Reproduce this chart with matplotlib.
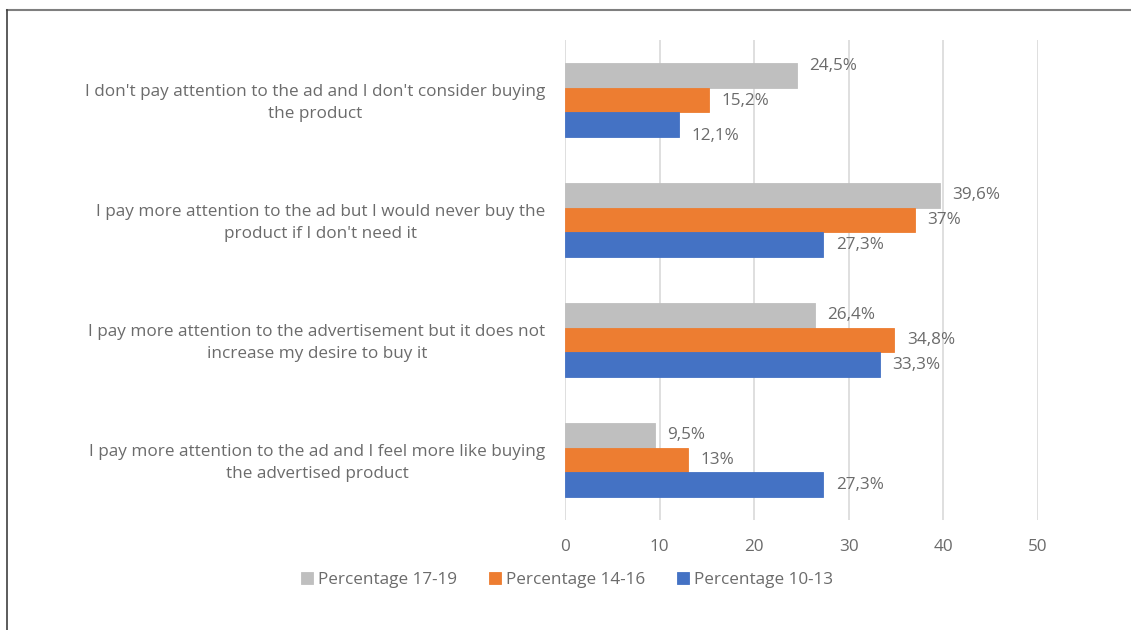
import matplotlib
matplotlib.use("Agg")
import matplotlib.pyplot as plt
from matplotlib.lines import Line2D
import numpy as np

plt.rcParams['font.family'] = ['Open Sans', 'DejaVu Sans']

categories = [
    "I don't pay attention to the ad and I don't consider buying\nthe product",
    "I pay more attention to the ad but I would never buy the\nproduct if I don't need it",
    "I pay more attention to the advertisement but it does not\nincrease my desire to buy it",
    "I pay more attention to the ad and I feel more like buying\nthe advertised product",
]
series_names = ["Percentage 17-19", "Percentage 14-16", "Percentage 10-13"]
pct_17_19 = [24.5, 39.6, 26.4, 9.5]
pct_14_16 = [15.2, 37.0, 34.8, 13.0]
pct_10_13 = [12.1, 27.3, 33.3, 27.3]
value_labels = [
    ["24,5%", "39,6%", "26,4%", "9,5%"],
    ["15,2%", "37%", "34,8%", "13%"],
    ["12,1%", "27,3%", "33,3%", "27,3%"],
]
x_ticks = [0, 10, 20, 30, 40, 50]
colors = ["#BFBFBF", "#ED7D31", "#4472C4"]
text_color = "#6B6B6B"
fs = 12.3

fig = plt.figure(figsize=(11.31, 6.30), dpi=100)
ax = fig.add_axes([565 / 1131, 1 - 520 / 630, (1038 - 565) / 1131, 480 / 630])

n = len(categories)
bar_h = 0.205
y_centers = np.arange(n)
series = [pct_17_19, pct_14_16, pct_10_13]
offsets = [-bar_h, 0, bar_h]
# vertical nudges (in points) for the labels of the first, crowded group
label_nudge = {(0, 0): 7, (1, 0): -1, (2, 0): -8}

for si, (vals, off, col, labs, name) in enumerate(zip(series, offsets, colors, value_labels, series_names)):
    ys = y_centers + off
    ax.barh(ys, vals, height=bar_h, color=col, edgecolor=col, linewidth=0.6,
            label=name, zorder=3)
    for ci, (y, v, lab) in enumerate(zip(ys, vals, labs)):
        ax.annotate(lab, (v, y), xytext=(9, label_nudge.get((si, ci), 0)),
                    textcoords="offset points", va="center", ha="left",
                    fontsize=fs, color=text_color)

ax.set_ylim(n - 0.5, -0.5)
ax.set_xlim(0, 50)
ax.set_xticks(x_ticks)
ax.set_xticklabels([str(t) for t in x_ticks])
ax.set_yticks(y_centers - 0.02)
ax.set_yticklabels(categories, multialignment="center", linespacing=1.55)
ax.tick_params(axis="y", length=0, pad=14, labelsize=fs, labelcolor=text_color)
ax.tick_params(axis="x", length=0, pad=14, labelsize=fs, labelcolor=text_color)
ax.grid(axis="x", color="#D9D9D9", linewidth=1.2, zorder=0)
for s in ax.spines.values():
    s.set_visible(False)

handles, labels = ax.get_legend_handles_labels()
leg = fig.legend(handles, labels, loc="center", bbox_to_anchor=(567 / 1131, 1 - 580 / 630),
                 ncol=3, frameon=False, fontsize=fs, handlelength=0.7, handleheight=0.7,
                 handletextpad=0.3, columnspacing=1.85)
for t in leg.get_texts():
    t.set_color(text_color)

# outer frame
fig.add_artist(Line2D([7 / 1131, 1.0], [1 - 10 / 630, 1 - 10 / 630], color="#7F7F7F",
                      linewidth=1.5, transform=fig.transFigure))
fig.add_artist(Line2D([7 / 1131, 7 / 1131], [0, 1 - 10 / 630], color="#404040",
                      linewidth=1.2, transform=fig.transFigure))

fig.savefig("out.png", dpi=100, facecolor="white")
